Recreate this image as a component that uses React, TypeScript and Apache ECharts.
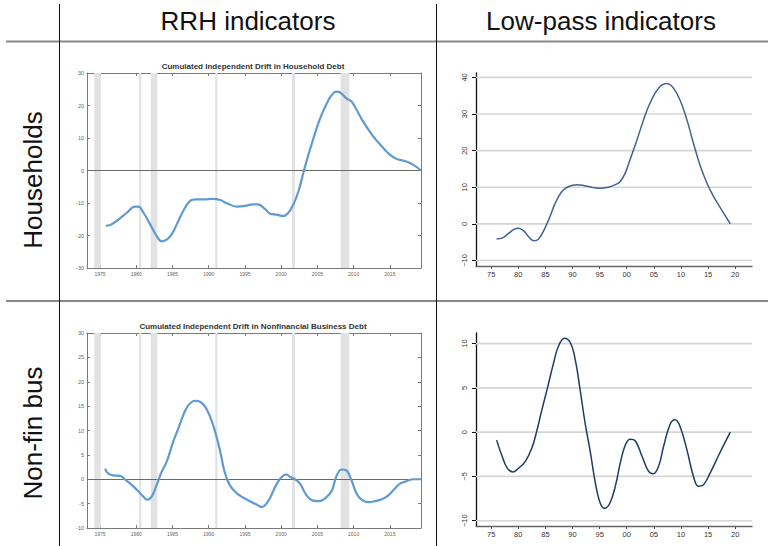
import React, { useEffect, useRef } from "react";
import * as echarts from "echarts";

// Cumulated independent drift (RRH), households: [year, value]
const hhRrh: [number, number][] = [
  [1975.8, -17.0], [1976.4, -16.8], [1977.3, -15.5], [1978.7, -13.0], [1979.8, -11.1],
  [1980.3, -11.1], [1981.0, -13.0], [1981.9, -16.5], [1982.8, -20.1], [1983.5, -21.8],
  [1984.2, -21.3], [1984.9, -19.6], [1985.6, -16.5], [1986.5, -12.4], [1987.4, -9.4],
  [1988.3, -8.9], [1989.3, -8.9], [1990.6, -8.7], [1991.6, -9.1], [1992.5, -10.1],
  [1993.9, -11.1], [1995.0, -10.9], [1996.1, -10.4], [1996.8, -10.4], [1997.8, -11.9],
  [1998.4, -13.2], [1999.4, -13.6], [2000.3, -14.0], [2001.0, -13.0], [2001.7, -10.4],
  [2002.4, -6.3], [2003.0, -1.2], [2003.7, 4.4], [2004.4, 9.5], [2005.3, 15.6],
  [2006.3, 20.7], [2007.0, 23.3], [2007.6, 24.3], [2008.1, 24.1], [2009.0, 22.2],
  [2009.7, 21.2], [2010.4, 18.7], [2011.3, 15.1], [2012.7, 10.5], [2014.1, 6.9],
  [2015.0, 4.9], [2015.9, 3.6], [2017.1, 2.9], [2018.2, 1.8], [2019.3, 0.0],
];

// Cumulated independent drift (RRH), nonfinancial business
const nfRrh: [number, number][] = [
  [1975.7, 2.2], [1976.1, 1.2], [1976.8, 0.8], [1977.8, 0.7], [1978.4, 0.0],
  [1979.4, -1.2], [1980.3, -2.5], [1981.0, -3.6], [1981.5, -4.2], [1982.1, -3.6],
  [1982.8, -1.2], [1983.5, 1.5], [1984.2, 3.6], [1985.1, 7.7], [1985.8, 10.4],
  [1986.5, 13.2], [1987.2, 15.2], [1988.1, 16.1], [1988.8, 15.9], [1989.5, 14.9],
  [1990.2, 12.8], [1990.9, 9.7], [1991.6, 5.6], [1992.2, 1.5], [1992.9, -1.2],
  [1993.9, -2.9], [1994.8, -3.8], [1995.7, -4.5], [1996.6, -5.2], [1997.3, -5.7],
  [1997.8, -5.3], [1998.4, -4.0], [1999.4, -0.9], [2000.1, 0.5], [2000.7, 1.0],
  [2001.2, 0.5], [2001.9, 0.0], [2002.6, -0.9], [2003.5, -3.3], [2004.4, -4.4],
  [2005.3, -4.5], [2006.3, -3.6], [2007.0, -2.3], [2007.6, 0.5], [2008.3, 2.0],
  [2009.0, 1.8], [2009.7, -0.2], [2010.4, -2.9], [2011.1, -4.2], [2012.0, -4.7],
  [2012.9, -4.5], [2013.9, -4.1], [2014.8, -3.3], [2015.7, -1.9], [2016.4, -0.9],
  [2017.3, -0.4], [2018.2, 0.0], [2019.3, 0.0],
];

// Low-pass indicator, households
const hhLp: [number, number][] = [
  [1976.0, -4.1], [1977.0, -3.9], [1978.2, -2.6], [1979.2, -1.5], [1980.0, -1.2],
  [1981.0, -1.9], [1981.9, -3.5], [1982.9, -4.6], [1983.7, -4.2], [1984.6, -2.1],
  [1985.6, 1.1], [1986.8, 5.6], [1988.0, 8.8], [1989.3, 10.2], [1990.8, 10.7],
  [1992.0, 10.5], [1993.9, 9.9], [1995.1, 9.7], [1996.6, 10.0], [1997.9, 10.7],
  [1998.8, 11.6], [1999.7, 13.8], [2000.6, 17.5], [2001.9, 23.0], [2003.1, 28.4],
  [2004.3, 33.0], [2005.9, 37.1], [2007.4, 38.3], [2008.6, 37.1], [2009.8, 33.9],
  [2011.1, 28.4], [2012.3, 22.0], [2013.5, 16.1], [2014.8, 11.1], [2016.0, 7.5],
  [2017.5, 3.8], [2019.1, 0.0],
];

// Low-pass indicator, nonfinancial business
const nfLp: [number, number][] = [
  [1976.0, -0.9], [1977.0, -2.7], [1977.9, -4.0], [1979.0, -4.5], [1980.0, -4.1],
  [1981.3, -3.3], [1982.5, -1.8], [1983.4, 0.1], [1984.3, 2.4], [1985.3, 4.8],
  [1986.5, 7.8], [1987.4, 9.7], [1988.5, 10.6], [1989.6, 10.1], [1990.5, 8.2],
  [1991.4, 4.8], [1992.3, 1.1], [1993.3, -2.3], [1994.2, -5.7], [1995.1, -8.0],
  [1995.9, -8.6], [1996.9, -8.0], [1997.9, -6.1], [1998.8, -3.5], [1999.7, -1.5],
  [2000.6, -0.8], [2001.6, -1.0], [2002.8, -2.7], [2004.0, -4.4], [2004.9, -4.7],
  [2005.9, -3.8], [2006.8, -1.6], [2008.0, 0.9], [2008.9, 1.4], [2009.8, 0.7],
  [2011.1, -2.0], [2012.3, -5.0], [2013.2, -6.1], [2014.2, -5.9], [2015.4, -4.6],
  [2017.2, -2.3], [2019.1, 0.0],
];

// Recession bands [start, end]
const recessions: [number, number][] = [
  [1974.2, 1975.1], [1980.4, 1980.7], [1982.0, 1982.9],
  [1990.9, 1991.2], [2001.5, 2001.9], [2008.2, 2009.4],
];

const rrhYearTicks = [1975, 1980, 1985, 1990, 1995, 2000, 2005, 2010, 2015];
const lpYearTicks = [1975, 1980, 1985, 1990, 1995, 2000, 2005, 2010, 2015, 2020];
const hhLpTicks = [-10, 0, 10, 20, 30, 40];
const nfLpTicks = [-10, -5, 0, 5, 10];

const colTitles = ["RRH indicators", "Low-pass indicators"];
const rowTitles = ["Households", "Non-fin bus"];
const panelTitles = [
  "Cumulated Independent Drift in Household Debt",
  "Cumulated Independent Drift in Nonfinancial Business Debt",
];

const SANS = "'Liberation Sans', Arial, sans-serif";
const AX = "#7a7a7a";
const LP_XMIN = 1972.2;
const LP_XMAX = 2023.1;

const fmtMinus = (v: number) => (v < 0 ? "\u2212" + Math.abs(v) : String(v));
const fmtShortYear = (v: number) => String(Math.round(v) % 100).padStart(2, "0");
const fmtYear = (v: number) => String(Math.round(v));

function rrhX(gridIndex: number, top: boolean) {
  return {
    type: "value",
    gridIndex,
    position: top ? "top" : "bottom",
    min: 1973.2,
    max: 2019.3,
    axisLine: { show: true, onZero: false, lineStyle: { color: AX, width: 1 } },
    axisTick: { show: true, inside: true, length: 3, customValues: rrhYearTicks, lineStyle: { color: AX } },
    axisLabel: {
      show: !top,
      customValues: rrhYearTicks,
      formatter: fmtYear,
      fontSize: 5,
      color: "#666",
      margin: 3,
      fontFamily: SANS,
    },
    splitLine: { show: false },
  };
}

function rrhY(gridIndex: number, right: boolean, min: number, max: number, interval: number) {
  return {
    type: "value",
    gridIndex,
    position: right ? "right" : "left",
    min,
    max,
    interval,
    axisLine: { show: true, onZero: false, lineStyle: { color: AX, width: 1 } },
    axisTick: { show: true, inside: true, length: 3, lineStyle: { color: AX } },
    axisLabel: { show: !right, fontSize: 5.5, color: "#666", margin: 3, fontFamily: SANS },
    splitLine: { show: false },
  };
}

function lpX(gridIndex: number) {
  return {
    type: "value",
    gridIndex,
    min: LP_XMIN,
    max: LP_XMAX,
    axisLine: { show: true, onZero: false, lineStyle: { color: "#666", width: 1.3 } },
    axisTick: { show: true, length: 3, customValues: lpYearTicks, lineStyle: { color: "#555" } },
    axisLabel: {
      customValues: lpYearTicks,
      formatter: fmtShortYear,
      fontSize: 7.5,
      color: "#333",
      margin: 4,
      fontFamily: SANS,
    },
    splitLine: { show: false },
  };
}

function lpY(gridIndex: number, min: number, max: number, ticks: number[]) {
  return {
    type: "value",
    gridIndex,
    min,
    max,
    axisLine: { show: true, onZero: false, lineStyle: { color: "#111", width: 1.3 } },
    axisTick: { show: true, length: 4, customValues: ticks, lineStyle: { color: "#111" } },
    axisLabel: {
      customValues: ticks,
      formatter: fmtMinus,
      rotate: 90,
      fontSize: 7.5,
      color: "#333",
      margin: 8,
      fontFamily: SANS,
    },
    splitLine: { show: false },
  };
}

function rrhSeries(data: [number, number][], xi: number, yi: number) {
  return {
    type: "line",
    xAxisIndex: xi,
    yAxisIndex: yi,
    data,
    smooth: 0.4,
    showSymbol: false,
    lineStyle: { color: "#5f9bd0", width: 2.2 },
    z: 10,
    markArea: {
      silent: true,
      itemStyle: { color: "#e2e2e2" },
      data: recessions.map(([a, b]) => [{ xAxis: a }, { xAxis: b }]),
    },
    markLine: {
      silent: true,
      symbol: "none",
      label: { show: false },
      lineStyle: { color: "#6a6a6a", width: 1, type: "solid" },
      data: [{ yAxis: 0 }],
    },
  };
}

function lpSeries(data: [number, number][], xi: number, yi: number, color: string) {
  return {
    type: "line",
    xAxisIndex: xi,
    yAxisIndex: yi,
    data,
    smooth: 0.4,
    showSymbol: false,
    lineStyle: { color, width: 1.5 },
    z: 10,
  };
}

// light horizontal rules across the plot at each labelled value
function gridRules(ticks: number[], xi: number, yi: number) {
  return ticks.map((v) => ({
    type: "line",
    xAxisIndex: xi,
    yAxisIndex: yi,
    data: [
      [LP_XMIN, v],
      [LP_XMAX, v],
    ],
    showSymbol: false,
    silent: true,
    lineStyle: { color: "#d5d5d5", width: 1.6 },
    z: 1,
  }));
}

export default function App() {
  const ref = useRef<HTMLDivElement>(null);

  useEffect(() => {
    if (!ref.current) return;
    const chart = echarts.init(ref.current, undefined, { renderer: "svg" });

    const tableLine = (x1: number, y1: number, x2: number, y2: number, color: string, w: number) => ({
      type: "line",
      shape: { x1, y1, x2, y2 },
      style: { stroke: color, lineWidth: w },
      silent: true,
    });

    const bigText = (text: string, x: number, y: number, rotation = 0) => ({
      type: "text",
      x,
      y,
      rotation,
      style: {
        text,
        fill: "#111",
        font: `26px ${SANS}`,
        align: "center",
        verticalAlign: "middle",
      },
      silent: true,
    });

    const titleText = (text: string, x: number, y: number) => ({
      type: "text",
      x,
      y,
      style: {
        text,
        fill: "#333",
        font: `bold 8px ${SANS}`,
        align: "center",
        verticalAlign: "middle",
      },
      silent: true,
    });

    chart.setOption({
      animation: false,
      backgroundColor: "#ffffff",
      grid: [
        { left: 87, top: 73, width: 334, height: 195 },
        { left: 476, top: 73, width: 276, height: 193 },
        { left: 87, top: 333, width: 334, height: 195 },
        { left: 476, top: 333, width: 276, height: 193 },
      ],
      xAxis: [rrhX(0, false), rrhX(0, true), lpX(1), rrhX(2, false), rrhX(2, true), lpX(3)],
      yAxis: [
        rrhY(0, false, -30, 30, 10),
        rrhY(0, true, -30, 30, 10),
        lpY(1, -11.5, 41.2, hhLpTicks),
        rrhY(2, false, -10, 30, 5),
        rrhY(2, true, -10, 30, 5),
        lpY(3, -10.6, 11.2, nfLpTicks),
      ],
      series: [
        ...gridRules(hhLpTicks, 2, 2),
        ...gridRules(nfLpTicks, 5, 5),
        rrhSeries(hhRrh, 0, 0),
        lpSeries(hhLp, 2, 2, "#3e6390"),
        rrhSeries(nfRrh, 3, 3),
        lpSeries(nfLp, 5, 5, "#1c3c66"),
      ],
      graphic: [
        tableLine(6, 41.5, 768, 41.5, "#888", 2),
        tableLine(6, 301, 768, 301, "#888", 2),
        tableLine(59.5, 4, 59.5, 546, "#111", 1),
        tableLine(436.5, 4, 436.5, 546, "#111", 1),
        bigText(colTitles[0], 248, 21),
        bigText(colTitles[1], 601, 21),
        bigText(rowTitles[0], 33, 180, Math.PI / 2),
        bigText(rowTitles[1], 33, 433, Math.PI / 2),
        titleText(panelTitles[0], 253, 66),
        titleText(panelTitles[1], 253, 326),
      ],
    });

    return () => chart.dispose();
  }, []);

  return (
    <div
      ref={ref}
      style={{ position: "absolute", left: 0, top: 0, width: 768, height: 546, background: "#fff" }}
    />
  );
}
